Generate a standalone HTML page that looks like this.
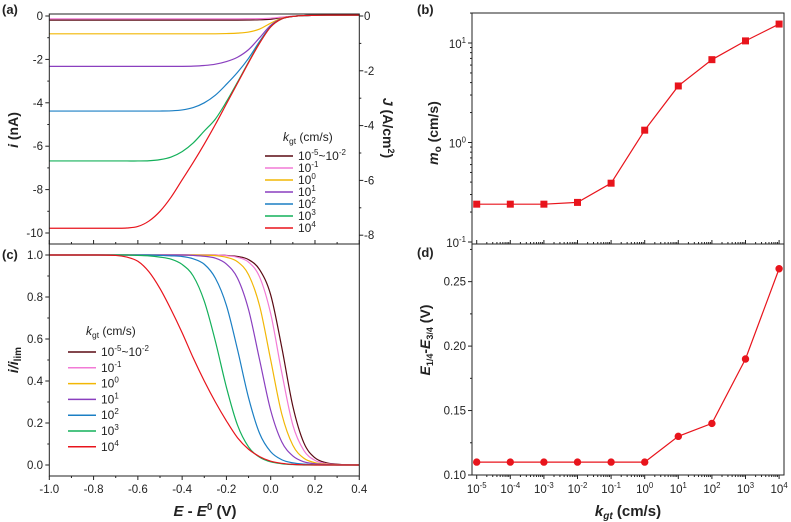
<!DOCTYPE html>
<html><head><meta charset="utf-8"><style>
body{margin:0;background:#fff;width:791px;height:522px;overflow:hidden}
svg{display:block;font-family:"Liberation Sans",Arial,sans-serif}
</style></head><body>
<svg id="fig" width="791" height="522" viewBox="0 0 791 522"></svg>
<script>
// ---------- data ----------
const potentialGrid = [-1.0,-0.9,-0.8,-0.7,-0.65,-0.6,-0.55,-0.5,-0.45,-0.4,-0.35,-0.3,-0.25,-0.2,-0.15,-0.1,-0.05,0,0.05,0.1,0.15,0.2,0.25,0.3,0.35,0.4];
const seriesNames = ["10^-5~10^-2","10^-1","10^0","10^1","10^2","10^3","10^4"];
const seriesColors = ["#5a0a14","#f27ad6","#f2b705","#8a3fbf","#1b7fc4","#14b05a","#e8141c"];
const currentDark = [-0.19,-0.19,-0.19,-0.19,-0.19,-0.19,-0.19,-0.19,-0.19,-0.19,-0.19,-0.19,-0.19,-0.19,-0.19,-0.185,-0.175,-0.15,-0.07,-0.01,0.02,0.03,0.04,0.04,0.04,0.04];
const currentPink = [-0.13,-0.13,-0.13,-0.13,-0.13,-0.13,-0.13,-0.13,-0.13,-0.13,-0.13,-0.13,-0.13,-0.13,-0.13,-0.125,-0.12,-0.1,-0.05,-0.01,0.02,0.03,0.04,0.04,0.04,0.04];
const currentYellow = [-0.82,-0.82,-0.82,-0.82,-0.82,-0.82,-0.82,-0.82,-0.82,-0.82,-0.82,-0.82,-0.82,-0.81,-0.79,-0.74,-0.6,-0.33,-0.1,-0.02,0.02,0.03,0.04,0.04,0.04,0.04];
const currentPurple = [-2.32,-2.32,-2.32,-2.32,-2.32,-2.32,-2.32,-2.32,-2.32,-2.32,-2.31,-2.28,-2.22,-2.1,-1.9,-1.55,-1.0,-0.43,-0.12,-0.02,0.02,0.03,0.04,0.04,0.04,0.04];
const currentBlue = [-4.38,-4.38,-4.38,-4.38,-4.38,-4.38,-4.38,-4.38,-4.37,-4.33,-4.22,-4.0,-3.65,-3.15,-2.6,-1.95,-1.17,-0.48,-0.13,-0.02,0.02,0.03,0.04,0.04,0.04,0.04];
const currentGreen = [-6.68,-6.68,-6.68,-6.68,-6.68,-6.68,-6.67,-6.62,-6.5,-6.25,-5.85,-5.3,-4.75,-3.95,-3.05,-2.12,-1.23,-0.5,-0.13,-0.02,0.02,0.03,0.04,0.04,0.04,0.04];
const currentRed = [-9.78,-9.78,-9.78,-9.78,-9.77,-9.7,-9.45,-9.0,-8.35,-7.55,-6.75,-5.9,-5.0,-4.05,-3.1,-2.15,-1.25,-0.5,-0.13,-0.02,0.02,0.03,0.04,0.04,0.04,0.04];
const normDark = [1,1,1,1,1,1,1,1,1,1,1,1,1,0.998,0.993,0.978,0.93,0.81,0.56,0.28,0.105,0.034,0.011,0.004,0.001,0];
const normPink = [1,1,1,1,1,1,1,1,1,1,1,1,1,0.997,0.989,0.966,0.895,0.72,0.44,0.19,0.069,0.022,0.007,0.002,0.001,0];
const normYellow = [1,1,1,1,1,1,1,1,1,1,1,0.999,0.997,0.989,0.968,0.906,0.757,0.5,0.243,0.094,0.032,0.011,0.004,0.001,0,0];
const normPurple = [1,1,1,1,1,1,1,1,1,1,0.998,0.994,0.985,0.957,0.89,0.74,0.5,0.26,0.11,0.043,0.015,0.006,0.002,0,0,0];
const normBlue = [1,1,1,1,1,1,1,0.998,0.996,0.993,0.982,0.956,0.89,0.76,0.55,0.32,0.15,0.063,0.025,0.01,0.004,0.001,0,0,0,0];
const normGreen = [1,1,1,1,1,0.998,0.996,0.99,0.98,0.955,0.9,0.78,0.59,0.37,0.19,0.086,0.037,0.015,0.006,0.002,0,0,0,0,0,0];
const normRed = [1,1,1,0.998,0.99,0.97,0.92,0.84,0.74,0.63,0.51,0.4,0.3,0.21,0.13,0.075,0.04,0.018,0.008,0.003,0.001,0,0,0,0,0];
const kgtExponents = [-5,-4,-3,-2,-1,0,1,2,3,4];
const moValues = [0.24,0.24,0.24,0.25,0.39,1.33,3.7,6.8,10.5,15.5];
const widthValues = [0.11,0.11,0.11,0.11,0.11,0.11,0.13,0.14,0.19,0.26];
const eTicks = [-1.0,-0.8,-0.6,-0.4,-0.2,0.0,0.2,0.4];
const iTicks = [0,-2,-4,-6,-8,-10];
const jTicks = [0,-2,-4,-6,-8];
const normTicks = [0,0.2,0.4,0.6,0.8,1.0];
const widthTicks = [0.10,0.15,0.20,0.25];

const currentSeries = [currentDark,currentPink,currentYellow,currentPurple,currentBlue,currentGreen,currentRed];
const normSeries = [normDark,normPink,normYellow,normPurple,normBlue,normGreen,normRed];

// ---------- scales ----------
const xE = e => 49.3 + (e + 1.0) * 221.4;
const yI = v => 16 - v * 21.7;
const yJ = v => 16 - v * 27.4;
const yN = v => 465 - v * 210;
const xK = p => 476.7 + (p + 5) * 33.6;
const yM = v => 43 - (Math.log10(v) - 1) * 99.5;
const yW = v => 475 - (v - 0.10) * 1289;

const NS = "http://www.w3.org/2000/svg";
const svg = document.getElementById('fig');
function mk(tag, attrs, parent){
  const el = document.createElementNS(NS, tag);
  for (const k in attrs) el.setAttribute(k, attrs[k]);
  (parent || svg).appendChild(el);
  return el;
}
function txt(s, x, y, size, anchor, weight, parent){
  const t = mk('text', {x:x, y:y, 'font-size':size, 'text-anchor':anchor||'middle', 'font-weight':weight||'normal', fill:'#222'}, parent);
  t.innerHTML = s;
  return t;
}
function supLabel(base, exp, x, y, size, anchor, parent){
  const t = mk('text', {x:x, y:y, 'font-size':size, 'text-anchor':anchor||'middle', fill:'#222'}, parent);
  t.innerHTML = base + '<tspan font-size="' + (size*0.68) + '" dy="-5">' + exp + '</tspan>';
  return t;
}
function smoothPath(pts){
  let d = 'M' + pts[0][0].toFixed(2) + ',' + pts[0][1].toFixed(2);
  for (let i = 0; i < pts.length - 1; i++){
    const p0 = pts[Math.max(0,i-1)], p1 = pts[i], p2 = pts[i+1], p3 = pts[Math.min(pts.length-1,i+2)];
    const c1x = p1[0] + (p2[0]-p0[0])/6, c1y = p1[1] + (p2[1]-p0[1])/6;
    const c2x = p2[0] - (p3[0]-p1[0])/6, c2y = p2[1] - (p3[1]-p1[1])/6;
    d += ' C' + c1x.toFixed(2) + ',' + c1y.toFixed(2) + ' ' + c2x.toFixed(2) + ',' + c2y.toFixed(2) + ' ' + p2[0].toFixed(2) + ',' + p2[1].toFixed(2);
  }
  return d;
}

// ---------- panel (a) ----------
const gA = mk('g', {});


for (let s = 0; s < currentSeries.length; s++){
  const pts = potentialGrid.map((e, i) => [xE(e), yI(currentSeries[s][i])]);
  const p = mk('path', {d: smoothPath(pts), fill:'none', stroke: seriesColors[s], 'stroke-width':1.2}, gA);
  
  
}
mk('rect', {x:49.3, y:14, width:310, height:230, fill:'none', stroke:'#222', 'stroke-width':1}, gA);
for (const v of iTicks){
  mk('line', {x1:45.3, x2:49.3, y1:yI(v), y2:yI(v), stroke:'#222'}, gA);
  txt(String(v), 43, yI(v)+4, 11.5, 'end', 'normal', gA);
}
for (let v = -1; v >= -9; v -= 2) mk('line', {x1:47.3, x2:49.3, y1:yI(v), y2:yI(v), stroke:'#222'}, gA);
for (const v of jTicks){
  mk('line', {x1:359.3, x2:363.3, y1:yJ(v), y2:yJ(v), stroke:'#222'}, gA);
  txt(String(v), 364, yJ(v)+4, 11.5, 'start', 'normal', gA);
}
for (let v = -1; v >= -7; v -= 2) mk('line', {x1:359.3, x2:361.3, y1:yJ(v), y2:yJ(v), stroke:'#222'}, gA);
for (const e of eTicks) mk('line', {x1:xE(e), x2:xE(e), y1:244, y2:240, stroke:'#222'}, gA);
for (let e = -0.9; e < 0.4; e += 0.2) mk('line', {x1:xE(e), x2:xE(e), y1:244, y2:242, stroke:'#222'}, gA);
const panelA = txt('(a)', 2, 14, 13, 'start', 'bold');


const iTitle = mk('text', {x:0, y:0, 'font-size':14, 'font-weight':'bold', 'text-anchor':'middle', fill:'#222', transform:'translate(18,130) rotate(-90)'});
iTitle.innerHTML = '<tspan font-style="italic">i</tspan> (nA)';


const jTitle = mk('text', {x:0, y:0, 'font-size':14, 'font-weight':'bold', 'text-anchor':'middle', fill:'#222', transform:'translate(383,128) rotate(90)'});
jTitle.innerHTML = '<tspan font-style="italic">J</tspan> (A/cm<tspan font-size="9" dy="-5">2</tspan><tspan dy="5">)</tspan>';



// legends
function legend(x, yTitle, y0, dy, name){
  const g = mk('g', {});
  
  
  const t = mk('text', {x:x+18, y:yTitle, 'font-size':12, fill:'#222'}, g);
  t.innerHTML = '<tspan font-style="italic">k</tspan><tspan font-size="8.5" dy="3">gt</tspan><tspan dy="-3"> (cm/s)</tspan>';
  const labels = [['10','-5','~10','-2'],['10','-1'],['10','0'],['10','1'],['10','2'],['10','3'],['10','4']];
  for (let s = 0; s < seriesColors.length; s++){
    const y = y0 + s*dy;
    const ln = mk('line', {x1:x, x2:x+28, y1:y, y2:y, stroke:seriesColors[s], 'stroke-width':1.5}, g);
    
    
    const l = labels[s];
    const tt = mk('text', {x:x+33, y:y+4, 'font-size':12, fill:'#222'}, g);
    let h = l[0] + '<tspan font-size="8" dy="-5">' + l[1] + '</tspan>';
    if (l.length > 2) h += '<tspan dy="5">' + l[2] + '</tspan><tspan font-size="8" dy="-5">' + l[3] + '</tspan>';
    tt.innerHTML = h;
    
    
  }
}
legend(265, 141, 156, 12, 'legend-a');

// ---------- panel (c) ----------
const gC = mk('g', {});


for (let s = 0; s < normSeries.length; s++){
  const pts = potentialGrid.map((e, i) => [xE(e), yN(normSeries[s][i])]);
  const p = mk('path', {d: smoothPath(pts), fill:'none', stroke: seriesColors[s], 'stroke-width':1.2}, gC);
  
  
}
mk('rect', {x:49.3, y:244, width:310, height:232, fill:'none', stroke:'#222', 'stroke-width':1}, gC);
for (const v of normTicks){
  mk('line', {x1:45.3, x2:49.3, y1:yN(v), y2:yN(v), stroke:'#222'}, gC);
  txt(v.toFixed(1), 43, yN(v)+4, 11.5, 'end', 'normal', gC);
}
for (let v = 0.1; v < 1; v += 0.2) mk('line', {x1:47.3, x2:49.3, y1:yN(v), y2:yN(v), stroke:'#222'}, gC);
for (const e of eTicks){
  mk('line', {x1:xE(e), x2:xE(e), y1:476, y2:480, stroke:'#222'}, gC);
  txt(e.toFixed(1), xE(e), 493, 11.5, 'middle', 'normal', gC);
}
for (let e = -0.9; e < 0.4; e += 0.2) mk('line', {x1:xE(e), x2:xE(e), y1:476, y2:478, stroke:'#222'}, gC);
const panelC = txt('(c)', 2, 259, 13, 'start', 'bold');


const nTitle = mk('text', {x:0, y:0, 'font-size':14, 'font-weight':'bold', 'text-anchor':'middle', fill:'#222', 'font-style':'italic', transform:'translate(18,360) rotate(-90)'});
nTitle.innerHTML = 'i/i<tspan font-size="10" dy="3" font-style="normal">lim</tspan>';


const eTitle = mk('text', {x:205, y:516, 'font-size':15, 'font-weight':'bold', 'text-anchor':'middle', fill:'#222'});
eTitle.innerHTML = '<tspan font-style="italic">E</tspan> - <tspan font-style="italic">E</tspan><tspan font-size="10" dy="-6">0</tspan><tspan dy="6"> (V)</tspan>';


legend(68, 335, 352, 15.8, 'legend-c');

// ---------- panel (b) ----------
const gB = mk('g', {});


mk('rect', {x:472, y:13, width:312, height:231, fill:'none', stroke:'#222', 'stroke-width':1}, gB);
const bPts = kgtExponents.map((p, i) => xK(p).toFixed(2) + ',' + yM(moValues[i]).toFixed(2)).join(' ');
const bLine = mk('polyline', {points:bPts, fill:'none', stroke:'#e8141c', 'stroke-width':1.2}, gB);


kgtExponents.forEach((p, i) => {
  const r = mk('rect', {x:xK(p)-3.5, y:yM(moValues[i])-3.5, width:7, height:7, fill:'#e8141c'}, gB);
  
  
});
[[1,'1'],[0,'0'],[-1,'-1']].forEach(([e, s]) => {
  const y = yM(Math.pow(10, e));
  mk('line', {x1:468, x2:472, y1:y, y2:y, stroke:'#222'}, gB);
  supLabel('10', s, 466, y+5, 11.5, 'end', gB);
});
for (let d = -1; d <= 1; d++) for (let m = 2; m <= 9; m++){
  const v = m * Math.pow(10, d);
  const y = yM(v);
  if (y > 13 && y < 244) mk('line', {x1:470, x2:472, y1:y, y2:y, stroke:'#222'}, gB);
}
for (let p = -5; p <= 4; p++){
  mk('line', {x1:xK(p), x2:xK(p), y1:244, y2:240, stroke:'#222'}, gB);
  if (p < 4) for (let m = 2; m <= 9; m++){
    const x = xK(p + Math.log10(m));
    mk('line', {x1:x, x2:x, y1:244, y2:242, stroke:'#222'}, gB);
  }
}
const panelB = txt('(b)', 417, 14, 13, 'start', 'bold');


const moTitle = mk('text', {x:0, y:0, 'font-size':14, 'font-weight':'bold', 'text-anchor':'middle', fill:'#222', transform:'translate(438,133) rotate(-90)'});
moTitle.innerHTML = '<tspan font-style="italic">m</tspan><tspan font-size="10" dy="3">o</tspan><tspan dy="-3"> (cm/s)</tspan>';



// ---------- panel (d) ----------
const gD = mk('g', {});


mk('rect', {x:472, y:244, width:312, height:231, fill:'none', stroke:'#222', 'stroke-width':1}, gD);
const dPts = kgtExponents.map((p, i) => xK(p).toFixed(2) + ',' + yW(widthValues[i]).toFixed(2)).join(' ');
const dLine = mk('polyline', {points:dPts, fill:'none', stroke:'#e8141c', 'stroke-width':1.2}, gD);


kgtExponents.forEach((p, i) => {
  const c = mk('circle', {cx:xK(p), cy:yW(widthValues[i]), r:3.7, fill:'#e8141c'}, gD);
  
  
});
for (const v of widthTicks){
  mk('line', {x1:468, x2:472, y1:yW(v), y2:yW(v), stroke:'#222'}, gD);
  txt(v.toFixed(2), 466, yW(v)+4, 11.5, 'end', 'normal', gD);
}
for (let v = 0.125; v < 0.28; v += 0.05) mk('line', {x1:470, x2:472, y1:yW(v), y2:yW(v), stroke:'#222'}, gD);
for (let p = -5; p <= 4; p++){
  mk('line', {x1:xK(p), x2:xK(p), y1:475, y2:479, stroke:'#222'}, gD);
  supLabel('10', String(p), xK(p), 493, 11.5, 'middle', gD);
  if (p < 4) for (let m = 2; m <= 9; m++){
    const x = xK(p + Math.log10(m));
    mk('line', {x1:x, x2:x, y1:475, y2:477, stroke:'#222'}, gD);
  }
}
const panelD = txt('(d)', 417, 257, 13, 'start', 'bold');


const wTitle = mk('text', {x:0, y:0, 'font-size':14, 'font-weight':'bold', 'text-anchor':'middle', fill:'#222', transform:'translate(430,340) rotate(-90)'});
wTitle.innerHTML = '<tspan font-style="italic">E</tspan><tspan font-size="9" dy="3">1/4</tspan><tspan dy="-3">-</tspan><tspan font-style="italic">E</tspan><tspan font-size="9" dy="3">3/4</tspan><tspan dy="-3"> (V)</tspan>';


const kTitle = mk('text', {x:628, y:516, 'font-size':15, 'font-weight':'bold', 'text-anchor':'middle', fill:'#222'});
kTitle.innerHTML = '<tspan font-style="italic">k</tspan><tspan font-size="10" dy="3" font-style="italic">gt</tspan><tspan dy="-3"> (cm/s)</tspan>';


</script>
</body></html>
